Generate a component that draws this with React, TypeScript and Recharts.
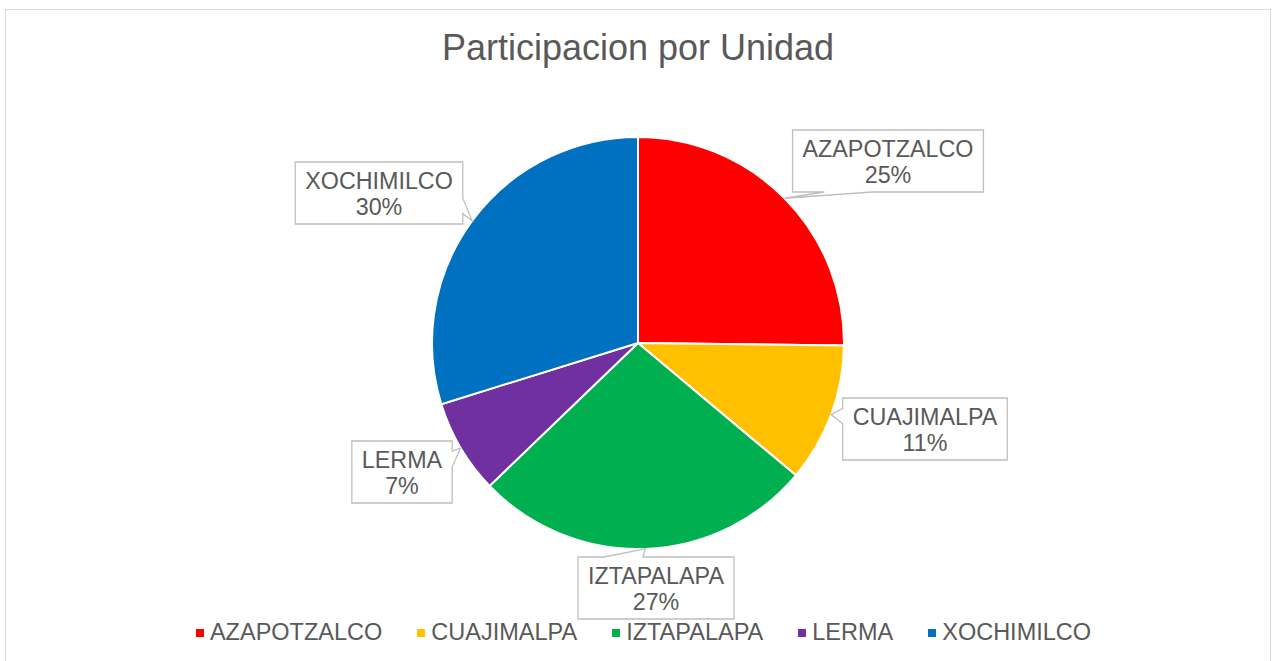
import { PieChart, Pie, Cell } from 'recharts'

const units = ['AZAPOTZALCO', 'CUAJIMALPA', 'IZTAPALAPA', 'LERMA', 'XOCHIMILCO']
const shares = [25.2, 10.9, 26.7, 7.4, 29.8]
const colors = ['#FF0000', '#FFC000', '#00B050', '#7030A0', '#0070C0']

// where each callout box sits, relative to the pie centre
const calloutOffsets: Record<string, [number, number]> = {
  AZAPOTZALCO: [250, -182],
  CUAJIMALPA: [287, 86],
  IZTAPALAPA: [18, 245],
  LERMA: [-236, 129],
  XOCHIMILCO: [-259, -150],
}

const FONT = "'Liberation Sans', Arial, sans-serif"
const TEXT_COLOR = '#595959'

const data = units.map((name, i) => ({ name, value: shares[i] }))

let ctx: CanvasRenderingContext2D | null = null
function textWidth(s: string, size: number) {
  if (!ctx) ctx = document.createElement('canvas').getContext('2d')
  if (!ctx) return s.length * size * 0.6
  ctx.font = `${size}px ${FONT}`
  return ctx.measureText(s).width
}

// rectangle callout with a wedge, same geometry as Office's wedgeRectCallout
function calloutPath(l: number, t: number, w: number, h: number, tx: number, ty: number) {
  const r = l + w
  const b = t + h
  const dxPos = tx - (l + w / 2)
  const dyPos = ty - (t + h / 2)
  const horizontal = Math.abs(dxPos * h) > Math.abs(dyPos * w)
  const x1 = l + (w * (dxPos > 0 ? 7 : 2)) / 12
  const x2 = l + (w * (dxPos > 0 ? 10 : 5)) / 12
  const y1 = t + (h * (dyPos > 0 ? 7 : 2)) / 12
  const y2 = t + (h * (dyPos > 0 ? 10 : 5)) / 12
  let p = `M${l},${t}`
  if (!horizontal && dyPos < 0) p += ` L${x1},${t} L${tx},${ty} L${x2},${t}`
  p += ` L${r},${t}`
  if (horizontal && dxPos > 0) p += ` L${r},${y1} L${tx},${ty} L${r},${y2}`
  p += ` L${r},${b}`
  if (!horizontal && dyPos > 0) p += ` L${x2},${b} L${tx},${ty} L${x1},${b}`
  p += ` L${l},${b}`
  if (horizontal && dxPos < 0) p += ` L${l},${y2} L${tx},${ty} L${l},${y1}`
  return p + ' Z'
}

const RAD = Math.PI / 180

function renderCallout(props: any) {
  const { cx, cy, midAngle, outerRadius, percent, name } = props
  const tx = cx + outerRadius * Math.cos(-midAngle * RAD)
  const ty = cy + outerRadius * Math.sin(-midAngle * RAD)
  const [ox, oy] = calloutOffsets[name] || [0, 0]
  const bx = cx + ox
  const by = cy + oy
  const w = textWidth(name, 23.3) + 20
  const h = 62
  return (
    <g key={name}>
      <path
        d={calloutPath(bx - w / 2, by - h / 2, w, h, tx, ty)}
        fill="#fff"
        stroke="#bfbfbf"
        strokeWidth={1.3}
      />
      <text x={bx} y={by - 4} textAnchor="middle" fontSize={23.3} fontFamily={FONT} fill={TEXT_COLOR}>
        {name}
      </text>
      <text x={bx} y={by + 22} textAnchor="middle" fontSize={23.3} fontFamily={FONT} fill={TEXT_COLOR}>
        {`${Math.round(percent * 100)}%`}
      </text>
    </g>
  )
}

function ChartLegend() {
  return (
    <div
      style={{
        position: 'absolute',
        left: 0,
        top: 617,
        width: 1287,
        display: 'flex',
        justifyContent: 'center',
        gap: 35,
        fontFamily: FONT,
        fontSize: 23.5,
        color: TEXT_COLOR,
        lineHeight: '30px',
      }}
    >
      {units.map((u, i) => (
        <div key={u} style={{ display: 'flex', alignItems: 'center' }}>
          <span style={{ width: 8, height: 8, background: colors[i], marginRight: 6, marginTop: 1 }} />
          <span>{u}</span>
        </div>
      ))}
    </div>
  )
}

export default function App() {
  return (
    <div style={{ position: 'absolute', left: 0, top: 0, width: 1273, height: 661, overflow: 'hidden', background: '#fff' }}>
      <div
        style={{
          position: 'absolute',
          left: 5,
          top: 9,
          width: 1264,
          height: 700,
          border: '1.5px solid #d9d9d9',
        }}
      />
      <div
        style={{
          position: 'absolute',
          left: 0,
          top: 28,
          width: 1276,
          textAlign: 'center',
          fontFamily: FONT,
          fontSize: 36,
          color: TEXT_COLOR,
          lineHeight: '40px',
        }}
      >
        Participacion por Unidad
      </div>
      <div style={{ position: 'absolute', left: 0, top: 0 }}>
        <PieChart width={1273} height={661} margin={{ top: 0, right: 0, bottom: 0, left: 0 }}>
          <Pie
            data={data}
            dataKey="value"
            nameKey="name"
            cx={638}
            cy={343}
            outerRadius={206}
            startAngle={90}
            endAngle={-270}
            stroke="#fff"
            strokeWidth={2}
            label={renderCallout}
            labelLine={false}
            isAnimationActive={false}
          >
            {data.map((d, i) => (
              <Cell key={d.name} fill={colors[i]} />
            ))}
          </Pie>
        </PieChart>
      </div>
      <ChartLegend />
    </div>
  )
}
